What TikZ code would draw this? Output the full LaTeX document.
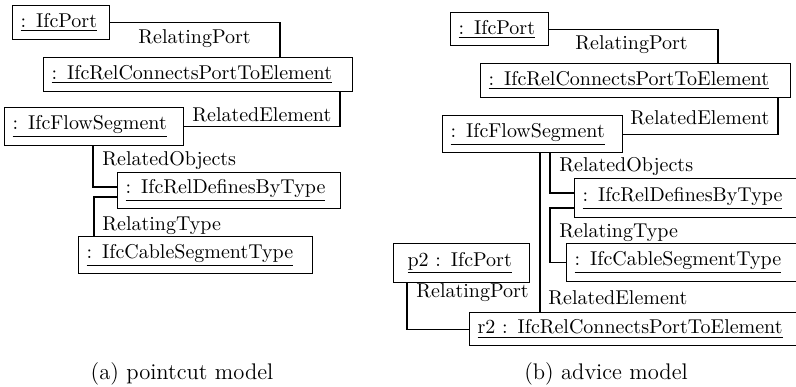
\documentclass[tikz,border=0pt]{standalone}
\usetikzlibrary{positioning}
\begin{document}
\begin{tikzpicture}[x=0.5pt, y=-0.5pt,
  obj/.style={draw, line width=0.6pt, inner xsep=4pt, inner ysep=0pt,
    align=left, anchor=north west},
  role/.style={inner sep=0pt, anchor=west},
  link/.style={line width=0.6pt},
  caption/.style={anchor=base, font=\fontsize{11.3}{13}\selectfont}]
\useasboundingbox (0,0) rectangle (796,386);

% ---------- (a) pointcut model ----------
\node[obj, text width=40.5pt, minimum height=17pt] (pA) at (12,5) {\underline{: IfcPort}};
\node[obj, text width=146.5pt, minimum height=17pt] (rA) at (43,57) {\underline{: IfcRelConnectsPortToElement}};
\node[obj, text width=81.5pt, minimum height=19pt] (fsA) at (4,107) {\underline{: IfcFlowSegment}};
\node[obj, text width=103.5pt, minimum height=18pt] (dtA) at (117,172) {\underline{: IfcRelDefinesByType}};
\node[obj, text width=109pt, minimum height=18.5pt] (csA) at (78,236) {\underline{: IfcCableSegmentType}};

\draw[link] (pA.east) -| (rA.north -| 280,0);
\draw[link] (rA.south -| 340,0) |- (fsA.east);
\draw[link] (fsA.south -| 93,0) |- (dtA.west |- 0,187);
\draw[link] (dtA.west |- 0,197) -| (csA.north -| 94,0);

\node[role] (lA1) at (138,39) {RelatingPort};
\node[role] (lA2) at (192,115) {RelatedElement};
\node[role] (lA3) at (102,160) {RelatedObjects};
\node[role] (lA4) at (102,226) {RelatingType};

\node[caption] (capA) at (182,379) {(a) pointcut model};

% ---------- (b) advice model ----------
\node[obj, text width=41pt, minimum height=16.5pt] (pB) at (450,12) {\underline{: IfcPort}};
\node[obj, text width=147pt, minimum height=17pt] (rB) at (480,63) {\underline{: IfcRelConnectsPortToElement}};
\node[obj, text width=82pt, minimum height=18.5pt] (fsB) at (442,115) {\underline{: IfcFlowSegment}};
\node[obj, text width=105pt, minimum height=19.5pt] (dtB) at (574,178) {\underline{: IfcRelDefinesByType}};
\node[obj, text width=109pt, minimum height=19pt] (csB) at (566,243) {\underline{: IfcCableSegmentType}};
\node[obj, text width=60pt, minimum height=19.5pt] (p2) at (393,243) {\hspace*{3pt}\underline{p2 : IfcPort}};
\node[obj, text width=157.5pt, minimum height=16.5pt] (r2) at (469,312) {\underline{r2 : IfcRelConnectsPortToElement}};

\draw[link] (pB.east) -| (rB.north -| 718,0);
\draw[link] (rB.south -| 778,0) |- (fsB.east);
\draw[link] (fsB.south -| 550,0) |- (dtB.west |- 0,193);
\draw[link] (dtB.west |- 0,208) -- ++(-24,0) |- (csB.west);
\draw[link] (fsB.south -| 540,0) -- (r2.north -| 540,0);
\draw[link] (p2.south -| 407,0) |- (r2.west);

\node[role] (lB1) at (575,45) {RelatingPort};
\node[role] (lB2) at (630,118) {RelatedElement};
\node[role] (lB3) at (559,166) {RelatedObjects};
\node[role] (lB4) at (559,233) {RelatingType};
\node[role] (lB5) at (548,298) {RelatedElement};
\node[role] (lB6) at (416,293) {RelatingPort};

\node[caption] (capB) at (606,379) {(b) advice model};
\end{tikzpicture}
\end{document}
